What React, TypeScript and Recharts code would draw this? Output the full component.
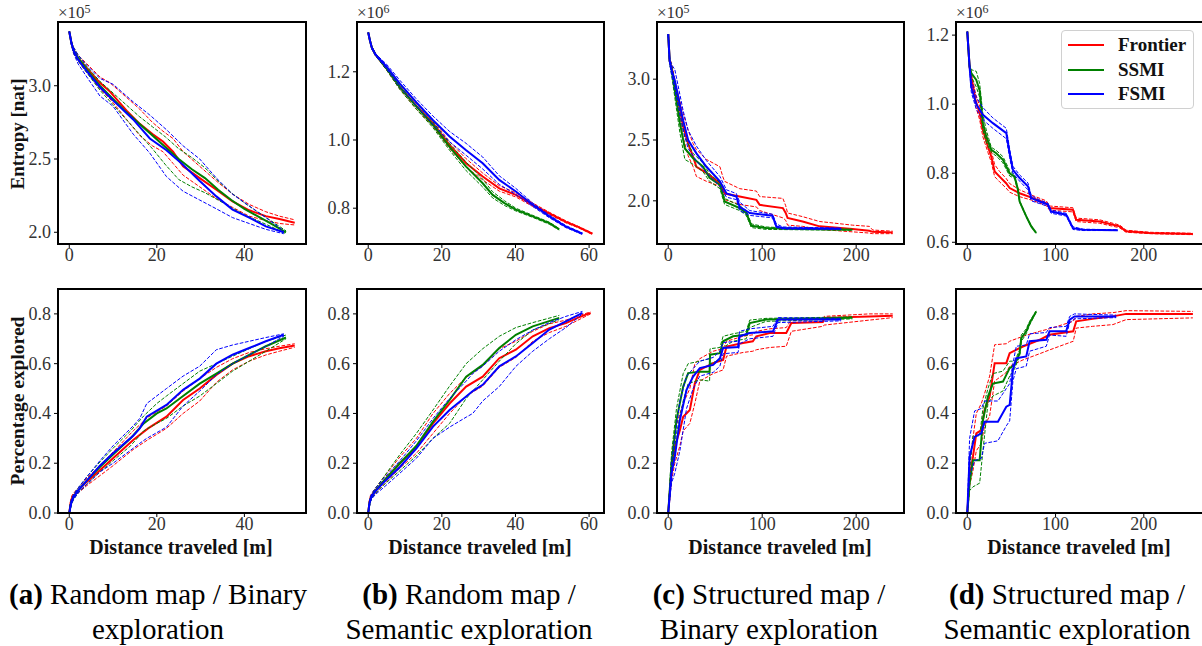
import React from 'react';
import { LineChart, Line, XAxis, YAxis } from 'recharts';

// ---------- tick labels / axis settings ----------
const xTicksA = [0, 20, 40];
const xTicksB = [0, 20, 40, 60];
const xTicksC = [0, 100, 200];
const xTicksD = [0, 100, 200];
const yTicksA1 = [2.0, 2.5, 3.0];
const yTicksB1 = [0.8, 1.0, 1.2];
const yTicksC1 = [2.0, 2.5, 3.0];
const yTicksD1 = [0.6, 0.8, 1.0, 1.2];
const yTicksBottom = [0.0, 0.2, 0.4, 0.6, 0.8];
const seriesNames = ['Frontier', 'SSMI', 'FSMI'];
const seriesColors = ['#ff0000', '#008000', '#0000ff'];
const captionsLine1 = [['(a)', ' Random map / Binary'], ['(b)', ' Random map /'], ['(c)', ' Structured map /'], ['(d)', ' Structured map /']];
const captionsLine2 = ['exploration', 'Semantic exploration', 'Binary exploration', 'Semantic exploration'];

// ---------- (a) top: entropy x1e5 ----------
const a1FrX = [0, 0.5, 1, 2, 4, 7, 9.3, 13.1, 16.1, 19, 21.4, 23.7, 26, 29.8, 33.6, 37.3, 41.1, 44.9, 48, 51.5];
const a1FrM = [3.37, 3.29, 3.24, 3.19, 3.12, 3.02, 2.96, 2.83, 2.74, 2.67, 2.62, 2.55, 2.45, 2.37, 2.29, 2.21, 2.15, 2.11, 2.09, 2.065];
const a1FrHi = [3.37, 3.3, 3.26, 3.21, 3.15, 3.06, 3.02, 2.92, 2.84, 2.75, 2.69, 2.64, 2.55, 2.45, 2.35, 2.26, 2.19, 2.14, 2.11, 2.085];
const a1FrLo = [3.37, 3.28, 3.22, 3.17, 3.09, 2.98, 2.91, 2.77, 2.66, 2.59, 2.55, 2.47, 2.39, 2.31, 2.23, 2.17, 2.11, 2.08, 2.06, 2.05];
const a1SsX = [0, 0.5, 1, 2, 4, 7, 10, 13, 16, 19, 22, 25, 28, 31, 34, 37, 40, 43, 46, 49.5];
const a1SsM = [3.37, 3.29, 3.24, 3.19, 3.11, 3.0, 2.91, 2.82, 2.74, 2.66, 2.58, 2.5, 2.43, 2.37, 2.29, 2.22, 2.16, 2.11, 2.06, 2.0];
const a1SsHi = [3.37, 3.3, 3.26, 3.21, 3.13, 3.03, 2.95, 2.87, 2.79, 2.72, 2.65, 2.57, 2.51, 2.44, 2.35, 2.27, 2.2, 2.14, 2.08, 2.01];
const a1SsLo = [3.37, 3.28, 3.22, 3.17, 3.09, 2.97, 2.87, 2.77, 2.67, 2.57, 2.46, 2.36, 2.31, 2.27, 2.22, 2.17, 2.12, 2.08, 2.04, 1.99];
const a1FsX = [0, 0.5, 1, 2, 4, 7, 10, 14.6, 18.4, 22.2, 26, 29.8, 33.6, 37.3, 41.1, 44.9, 49];
const a1FsM = [3.37, 3.29, 3.24, 3.18, 3.1, 2.99, 2.9, 2.77, 2.64, 2.56, 2.46, 2.35, 2.245, 2.155, 2.1, 2.04, 2.0];
const a1FsHi = [3.37, 3.3, 3.26, 3.21, 3.14, 3.05, 3.01, 2.89, 2.8, 2.7, 2.59, 2.5, 2.37, 2.26, 2.18, 2.1, 2.01];
const a1FsLo = [3.37, 3.28, 3.22, 3.15, 3.06, 2.93, 2.86, 2.67, 2.54, 2.38, 2.28, 2.22, 2.16, 2.1, 2.06, 2.02, 1.99];

// ---------- (a) bottom: percentage explored ----------
const a2FrX = [0, 0.3, 0.6, 1, 2, 4, 7, 10, 14.6, 18, 22.2, 26, 29.8, 33.6, 37.3, 41.1, 44.9, 48, 51.5];
const a2FrM = [0, 0.04, 0.06, 0.07, 0.09, 0.125, 0.172, 0.22, 0.293, 0.34, 0.387, 0.454, 0.5, 0.555, 0.6, 0.63, 0.65, 0.662, 0.673];
const a2FrHi = [0, 0.05, 0.07, 0.08, 0.1, 0.14, 0.19, 0.245, 0.33, 0.385, 0.43, 0.49, 0.54, 0.585, 0.62, 0.645, 0.66, 0.67, 0.68];
const a2FrLo = [0, 0.03, 0.05, 0.06, 0.08, 0.11, 0.15, 0.19, 0.255, 0.295, 0.34, 0.4, 0.45, 0.525, 0.575, 0.61, 0.635, 0.65, 0.666];
const a2SsX = [0, 0.3, 0.6, 1, 2, 4, 7, 10, 14, 17, 20, 22.2, 26, 29.8, 33.6, 37.3, 41.1, 44.9, 49.5];
const a2SsM = [0, 0.03, 0.05, 0.065, 0.09, 0.13, 0.185, 0.235, 0.3, 0.36, 0.4, 0.42, 0.47, 0.52, 0.56, 0.6, 0.635, 0.67, 0.705];
const a2SsHi = [0, 0.04, 0.06, 0.075, 0.1, 0.145, 0.205, 0.26, 0.33, 0.39, 0.44, 0.47, 0.52, 0.57, 0.6, 0.63, 0.66, 0.69, 0.715];
const a2SsLo = [0, 0.02, 0.04, 0.055, 0.08, 0.115, 0.165, 0.21, 0.27, 0.33, 0.36, 0.38, 0.43, 0.47, 0.52, 0.57, 0.61, 0.65, 0.7];
const a2FsX = [0, 0.3, 0.6, 1, 2, 4, 7, 10, 14.6, 16.1, 17.7, 22.2, 26, 29.8, 33.6, 37.3, 41.1, 44.9, 49];
const a2FsM = [0, 0.03, 0.05, 0.065, 0.09, 0.13, 0.19, 0.24, 0.31, 0.34, 0.387, 0.434, 0.495, 0.54, 0.6, 0.636, 0.663, 0.69, 0.716];
const a2FsHi = [0, 0.04, 0.06, 0.075, 0.1, 0.145, 0.21, 0.27, 0.35, 0.38, 0.44, 0.5, 0.55, 0.59, 0.656, 0.675, 0.69, 0.705, 0.72];
const a2FsLo = [0, 0.02, 0.04, 0.055, 0.08, 0.115, 0.165, 0.2, 0.26, 0.28, 0.3, 0.345, 0.43, 0.49, 0.555, 0.6, 0.635, 0.67, 0.71];

// ---------- (b) top: entropy x1e6 ----------
const b1FrX = [0, 0.5, 1, 2, 3.2, 5, 8.6, 13.1, 17.6, 22.1, 26.6, 31.1, 35.6, 40.1, 44.7, 49.2, 53.7, 57, 60.9];
const b1FrM = [1.315, 1.29, 1.27, 1.25, 1.234, 1.21, 1.156, 1.1, 1.049, 0.985, 0.932, 0.893, 0.858, 0.839, 0.81, 0.785, 0.76, 0.745, 0.725];
const b1FrHi = [1.315, 1.292, 1.273, 1.253, 1.238, 1.215, 1.163, 1.11, 1.058, 0.995, 0.945, 0.903, 0.866, 0.845, 0.815, 0.788, 0.763, 0.747, 0.727];
const b1FrLo = [1.315, 1.288, 1.267, 1.247, 1.23, 1.205, 1.149, 1.09, 1.04, 0.975, 0.92, 0.883, 0.85, 0.833, 0.805, 0.782, 0.757, 0.743, 0.723];
const b1SsX = [0, 0.5, 1, 2, 3.2, 5, 8.6, 13.1, 17.6, 22.1, 26.6, 31.1, 33.8, 37, 40.1, 44.7, 49.2, 51.9];
const b1SsM = [1.315, 1.29, 1.27, 1.25, 1.234, 1.21, 1.155, 1.098, 1.044, 0.98, 0.922, 0.873, 0.839, 0.815, 0.796, 0.776, 0.756, 0.738];
const b1SsHi = [1.315, 1.292, 1.273, 1.253, 1.238, 1.215, 1.162, 1.107, 1.053, 0.99, 0.935, 0.885, 0.848, 0.822, 0.8, 0.779, 0.759, 0.74];
const b1SsLo = [1.315, 1.288, 1.267, 1.247, 1.23, 1.205, 1.148, 1.09, 1.036, 0.97, 0.91, 0.862, 0.83, 0.808, 0.792, 0.773, 0.753, 0.736];
const b1FsX = [0, 0.5, 1, 2, 3.2, 5, 8.6, 13.1, 17.6, 22.1, 26.6, 31.1, 35.6, 40.1, 44.7, 49.2, 53.7, 58.2];
const b1FsM = [1.315, 1.29, 1.27, 1.25, 1.236, 1.215, 1.165, 1.11, 1.058, 1.01, 0.97, 0.932, 0.883, 0.849, 0.81, 0.776, 0.746, 0.725];
const b1FsHi = [1.315, 1.292, 1.273, 1.253, 1.24, 1.222, 1.175, 1.12, 1.07, 1.025, 0.99, 0.95, 0.895, 0.858, 0.815, 0.78, 0.749, 0.727];
const b1FsLo = [1.315, 1.288, 1.267, 1.247, 1.232, 1.208, 1.155, 1.1, 1.046, 0.995, 0.955, 0.915, 0.87, 0.84, 0.805, 0.772, 0.743, 0.723];

// ---------- (b) bottom ----------
const b2FrX = [0, 0.3, 0.6, 1, 2, 4, 8.6, 13.1, 17.6, 22.1, 26.6, 31.1, 35.6, 40.1, 44.7, 49.2, 53.7, 57, 60.4];
const b2FrM = [0, 0.04, 0.06, 0.07, 0.09, 0.125, 0.2, 0.266, 0.36, 0.44, 0.508, 0.548, 0.622, 0.656, 0.71, 0.743, 0.763, 0.785, 0.804];
const b2FrHi = [0, 0.05, 0.07, 0.08, 0.1, 0.14, 0.225, 0.3, 0.4, 0.48, 0.545, 0.59, 0.66, 0.69, 0.73, 0.76, 0.775, 0.792, 0.808];
const b2FrLo = [0, 0.03, 0.05, 0.06, 0.08, 0.11, 0.18, 0.24, 0.32, 0.4, 0.47, 0.51, 0.585, 0.625, 0.69, 0.725, 0.75, 0.775, 0.8];
const b2SsX = [0, 0.3, 0.6, 1, 2, 4, 8.6, 13.1, 17.6, 22.1, 26.6, 31.1, 35.6, 40.1, 44.7, 51.9];
const b2SsM = [0, 0.035, 0.055, 0.068, 0.09, 0.125, 0.2, 0.27, 0.367, 0.454, 0.548, 0.595, 0.663, 0.716, 0.75, 0.784];
const b2SsHi = [0, 0.045, 0.065, 0.078, 0.1, 0.14, 0.235, 0.32, 0.414, 0.51, 0.6, 0.66, 0.71, 0.745, 0.765, 0.794];
const b2SsLo = [0, 0.025, 0.045, 0.058, 0.08, 0.11, 0.17, 0.23, 0.3, 0.36, 0.46, 0.535, 0.61, 0.68, 0.735, 0.777];
const b2FsX = [0, 0.3, 0.6, 1, 2, 4, 8.6, 13.1, 17.6, 22.1, 26.6, 28.4, 31.1, 35.6, 40.1, 44.7, 49.2, 53.7, 58.2];
const b2FsM = [0, 0.035, 0.055, 0.068, 0.088, 0.12, 0.185, 0.26, 0.347, 0.414, 0.468, 0.49, 0.515, 0.589, 0.629, 0.683, 0.737, 0.77, 0.804];
const b2FsHi = [0, 0.045, 0.065, 0.078, 0.1, 0.135, 0.21, 0.29, 0.38, 0.46, 0.53, 0.56, 0.59, 0.65, 0.696, 0.735, 0.765, 0.79, 0.81];
const b2FsLo = [0, 0.025, 0.045, 0.058, 0.075, 0.1, 0.16, 0.22, 0.3, 0.345, 0.385, 0.4, 0.45, 0.508, 0.589, 0.65, 0.7, 0.745, 0.8];

// ---------- (c) top: entropy x1e5 ----------
const c1FrX = [0, 1.5, 3.5, 8.8, 12.4, 15.9, 21.2, 26.5, 30, 40.7, 55, 58, 60, 76, 93.8, 97.3, 122, 125, 127, 143, 161, 196, 214, 217.6, 238.9];
const c1FrM = [3.37, 3.15, 3.1, 2.88, 2.75, 2.61, 2.47, 2.36, 2.28, 2.23, 2.145, 2.1, 2.06, 2.035, 2.008, 1.967, 1.94, 1.9, 1.86, 1.83, 1.79, 1.768, 1.754, 1.745, 1.74];
const c1FrHi = [3.37, 3.17, 3.13, 2.93, 2.82, 2.72, 2.58, 2.47, 2.42, 2.34, 2.28, 2.2, 2.16, 2.1, 2.08, 2.035, 2.02, 1.96, 1.9, 1.87, 1.83, 1.8, 1.79, 1.76, 1.75];
const c1FrLo = [3.37, 3.13, 3.07, 2.83, 2.68, 2.52, 2.37, 2.28, 2.2, 2.16, 2.12, 2.05, 2.01, 1.97, 1.95, 1.92, 1.86, 1.84, 1.8, 1.79, 1.765, 1.745, 1.735, 1.73, 1.73];
const c1SsX = [0, 1.5, 3.5, 7, 12.4, 17.7, 26.5, 37, 44, 55, 58, 60, 76, 83, 88.5, 104, 140, 196];
const c1SsM = [3.37, 3.15, 3.08, 2.91, 2.64, 2.43, 2.35, 2.28, 2.19, 2.13, 2.05, 1.995, 1.94, 1.9, 1.795, 1.776, 1.768, 1.762];
const c1SsHi = [3.37, 3.17, 3.12, 2.97, 2.72, 2.52, 2.39, 2.31, 2.22, 2.15, 2.08, 2.02, 1.96, 1.92, 1.81, 1.785, 1.772, 1.765];
const c1SsLo = [3.37, 3.13, 3.04, 2.85, 2.56, 2.34, 2.3, 2.24, 2.16, 2.1, 2.02, 1.97, 1.92, 1.88, 1.78, 1.765, 1.762, 1.758];
const c1FsX = [0, 1.5, 3.5, 7, 15.9, 21.2, 30, 40.7, 55, 62, 72.5, 76, 86.7, 111, 115, 122, 184];
const c1FsM = [3.37, 3.15, 3.08, 2.99, 2.66, 2.5, 2.39, 2.28, 2.16, 2.06, 2.035, 1.95, 1.9, 1.877, 1.79, 1.776, 1.77];
const c1FsHi = [3.37, 3.17, 3.12, 3.08, 2.74, 2.58, 2.45, 2.33, 2.2, 2.09, 2.06, 1.99, 1.92, 1.89, 1.81, 1.785, 1.775];
const c1FsLo = [3.37, 3.13, 3.04, 2.92, 2.58, 2.43, 2.33, 2.23, 2.12, 2.03, 2.01, 1.92, 1.88, 1.86, 1.78, 1.768, 1.765];

// ---------- (c) bottom ----------
const c2FrX = [0, 3.5, 7, 12.4, 15.9, 23, 28.3, 33.6, 47.8, 58.4, 62, 79.6, 90, 93.8, 108, 125.6, 131, 164.5, 166, 214, 238.9];
const c2FrM = [0, 0.17, 0.266, 0.333, 0.387, 0.414, 0.52, 0.575, 0.602, 0.615, 0.669, 0.683, 0.69, 0.71, 0.723, 0.723, 0.763, 0.767, 0.784, 0.79, 0.793];
const c2FrHi = [0, 0.21, 0.33, 0.4, 0.44, 0.5, 0.6, 0.62, 0.65, 0.66, 0.69, 0.71, 0.716, 0.73, 0.74, 0.745, 0.777, 0.78, 0.79, 0.8, 0.8];
const c2FrLo = [0, 0.13, 0.2, 0.27, 0.33, 0.36, 0.44, 0.53, 0.56, 0.575, 0.63, 0.645, 0.65, 0.656, 0.665, 0.67, 0.73, 0.75, 0.755, 0.775, 0.785];
const c2SsX = [0, 3.5, 8.8, 15.9, 21.2, 33.6, 44, 44.5, 55, 58.4, 69, 83, 86.7, 104, 196];
const c2SsM = [0, 0.2, 0.374, 0.508, 0.562, 0.568, 0.568, 0.636, 0.642, 0.69, 0.71, 0.716, 0.763, 0.777, 0.784];
const c2SsHi = [0, 0.24, 0.42, 0.56, 0.6, 0.61, 0.62, 0.66, 0.665, 0.71, 0.72, 0.73, 0.775, 0.782, 0.788];
const c2SsLo = [0, 0.16, 0.32, 0.45, 0.52, 0.535, 0.53, 0.6, 0.615, 0.665, 0.69, 0.7, 0.745, 0.77, 0.78];
const c2FsX = [0, 3.5, 7, 12.4, 19.5, 26.5, 33.6, 47.8, 55, 58.4, 74.3, 76, 86.7, 111.5, 116.8, 184];
const c2FsM = [0, 0.159, 0.226, 0.374, 0.495, 0.548, 0.582, 0.595, 0.622, 0.663, 0.667, 0.71, 0.723, 0.73, 0.777, 0.777];
const c2FsHi = [0, 0.2, 0.3, 0.45, 0.55, 0.58, 0.61, 0.625, 0.65, 0.685, 0.69, 0.73, 0.74, 0.75, 0.785, 0.782];
const c2FsLo = [0, 0.12, 0.16, 0.25, 0.42, 0.5, 0.55, 0.565, 0.59, 0.64, 0.645, 0.68, 0.7, 0.71, 0.765, 0.772];

// ---------- (d) top: entropy x1e6 ----------
const d1FrX = [0, 2.6, 4.5, 9.4, 14, 17.7, 23.4, 27.2, 31, 36.6, 44, 48, 59.3, 74.4, 89.5, 93.2, 119.7, 123.4, 150, 172.5, 180, 206.5, 255.6];
const d1FrM = [1.21, 1.108, 1.08, 1.012, 0.974, 0.925, 0.877, 0.848, 0.805, 0.79, 0.771, 0.757, 0.742, 0.728, 0.713, 0.699, 0.694, 0.665, 0.66, 0.646, 0.632, 0.627, 0.624];
const d1FrHi = [1.21, 1.115, 1.09, 1.03, 0.995, 0.945, 0.895, 0.865, 0.825, 0.805, 0.785, 0.77, 0.752, 0.735, 0.72, 0.705, 0.7, 0.67, 0.665, 0.65, 0.635, 0.629, 0.626];
const d1FrLo = [1.21, 1.1, 1.07, 0.995, 0.955, 0.905, 0.86, 0.832, 0.79, 0.775, 0.757, 0.745, 0.732, 0.721, 0.706, 0.693, 0.688, 0.66, 0.655, 0.642, 0.629, 0.625, 0.622];
const d1SsX = [0, 2.6, 4.5, 10.2, 14, 17.7, 21.5, 27.2, 32.8, 40.4, 48, 53.6, 57.4, 59.3, 66.8, 72.5, 78];
const d1SsM = [1.21, 1.108, 1.09, 1.07, 1.04, 0.945, 0.906, 0.868, 0.858, 0.839, 0.8, 0.79, 0.752, 0.718, 0.675, 0.646, 0.627];
const d1SsHi = [1.21, 1.112, 1.1, 1.095, 1.06, 0.97, 0.925, 0.875, 0.866, 0.848, 0.808, 0.795, 0.755, 0.72, 0.677, 0.648, 0.628];
const d1SsLo = [1.21, 1.104, 1.08, 1.05, 1.02, 0.925, 0.89, 0.86, 0.85, 0.83, 0.792, 0.785, 0.749, 0.716, 0.673, 0.644, 0.626];
const d1FsX = [0, 2.6, 4.5, 10.2, 17.7, 29, 44.2, 48, 51.7, 59.3, 68.7, 72.5, 81.9, 91.4, 95, 112, 119.7, 131, 170.6];
const d1FsM = [1.21, 1.108, 1.05, 1.0, 0.969, 0.945, 0.916, 0.858, 0.81, 0.786, 0.762, 0.728, 0.718, 0.709, 0.689, 0.68, 0.641, 0.636, 0.635];
const d1FsHi = [1.21, 1.112, 1.07, 1.02, 0.99, 0.96, 0.93, 0.87, 0.82, 0.795, 0.772, 0.735, 0.723, 0.713, 0.693, 0.684, 0.645, 0.638, 0.636];
const d1FsLo = [1.21, 1.104, 1.035, 0.985, 0.955, 0.93, 0.9, 0.845, 0.8, 0.777, 0.752, 0.72, 0.712, 0.704, 0.684, 0.676, 0.637, 0.634, 0.634];

// ---------- (d) bottom ----------
const d2FrX = [0, 2.6, 6.4, 10.2, 15.9, 19.6, 25.3, 31, 44.2, 48, 63, 82, 93, 120, 123.4, 142, 165, 180, 255.6];
const d2FrM = [0, 0.145, 0.226, 0.32, 0.333, 0.414, 0.468, 0.602, 0.602, 0.642, 0.669, 0.696, 0.716, 0.73, 0.77, 0.78, 0.79, 0.8, 0.8];
const d2FrHi = [0, 0.19, 0.3, 0.4, 0.44, 0.48, 0.55, 0.676, 0.68, 0.69, 0.71, 0.73, 0.74, 0.77, 0.79, 0.8, 0.805, 0.813, 0.81];
const d2FrLo = [0, 0.11, 0.17, 0.25, 0.28, 0.35, 0.39, 0.53, 0.565, 0.59, 0.615, 0.64, 0.655, 0.69, 0.743, 0.75, 0.757, 0.777, 0.784];
const d2SsX = [0, 2.6, 6.4, 14, 17.7, 23.4, 29, 40.4, 48, 53.6, 59.3, 61.2, 66.8, 70.6, 78.1];
const d2SsM = [0, 0.118, 0.212, 0.212, 0.374, 0.468, 0.52, 0.528, 0.582, 0.595, 0.642, 0.703, 0.73, 0.763, 0.81];
const d2SsHi = [0, 0.17, 0.31, 0.31, 0.42, 0.5, 0.56, 0.57, 0.61, 0.61, 0.655, 0.715, 0.74, 0.77, 0.812];
const d2SsLo = [0, 0.09, 0.105, 0.12, 0.25, 0.44, 0.47, 0.49, 0.55, 0.58, 0.63, 0.69, 0.72, 0.755, 0.808];
const d2FsX = [0, 2.6, 8.3, 15.9, 19.6, 34.7, 44.2, 48, 51.7, 55.5, 66.8, 70.6, 89.5, 93.2, 112, 116, 121.5, 168.7];
const d2FsM = [0, 0.226, 0.306, 0.32, 0.367, 0.367, 0.427, 0.434, 0.575, 0.622, 0.629, 0.69, 0.696, 0.73, 0.73, 0.777, 0.79, 0.79];
const d2FsHi = [0, 0.3, 0.41, 0.42, 0.45, 0.45, 0.5, 0.52, 0.6, 0.67, 0.675, 0.72, 0.725, 0.745, 0.75, 0.79, 0.8, 0.795];
const d2FsLo = [0, 0.15, 0.21, 0.22, 0.28, 0.29, 0.35, 0.37, 0.53, 0.58, 0.59, 0.65, 0.67, 0.715, 0.71, 0.765, 0.78, 0.785];

// ---------- helpers ----------
type Row = { x: number; m: number; lo: number; hi: number };
const rows = (x: number[], m: number[], lo: number[], hi: number[]): Row[] =>
  x.map((v, i) => ({ x: v, m: m[i], lo: lo[i], hi: hi[i] }));

const FONT = '"Liberation Serif", "Times New Roman", serif';

const YW = 50;
const XH = 30;

function XTick(props: any) {
  const { x, y, payload } = props;
  return (
    <text x={x} y={y + 11} textAnchor="middle" fontFamily={FONT} fontSize={18} fill="#333">
      {String(payload.value)}
    </text>
  );
}
function YTick(props: any) {
  const { x, y, payload } = props;
  return (
    <text x={x} y={y + 6} textAnchor="end" fontFamily={FONT} fontSize={18} fill="#333">
      {Number(payload.value).toFixed(1)}
    </text>
  );
}

type PanelProps = {
  left: number; top: number; width: number; height: number;
  xDomain: [number, number]; xTicks: number[];
  yDomain: [number, number]; yTicks: number[];
  series: Row[][];
};

function Panel(p: PanelProps) {
  return (
    <div style={{ position: 'absolute', left: p.left - YW, top: p.top }}>
      <LineChart width={p.width + YW} height={p.height + XH} margin={{ top: 0, right: 0, bottom: 0, left: 0 }}>
        <XAxis type="number" dataKey="x" domain={p.xDomain} ticks={p.xTicks} allowDataOverflow
          height={XH} axisLine={false} tickSize={4} tickMargin={2}
          tickLine={{ stroke: '#000', strokeWidth: 1 }} tick={<XTick />} interval={0} />
        <YAxis type="number" domain={p.yDomain} ticks={p.yTicks} allowDataOverflow
          width={YW} axisLine={false} tickSize={4} tickMargin={3}
          tickLine={{ stroke: '#000', strokeWidth: 1 }} tick={<YTick />} interval={0} />
        {p.series.flatMap((d, i) => [
          <Line key={`m${i}`} data={d} dataKey="m" type="linear" stroke={seriesColors[i]} strokeWidth={2}
            dot={false} activeDot={false} isAnimationActive={false} />,
          <Line key={`h${i}`} data={d} dataKey="hi" type="linear" stroke={seriesColors[i]} strokeWidth={1}
            strokeDasharray="3.7 1.6" dot={false} activeDot={false} isAnimationActive={false} />,
          <Line key={`l${i}`} data={d} dataKey="lo" type="linear" stroke={seriesColors[i]} strokeWidth={1}
            strokeDasharray="3.7 1.6" dot={false} activeDot={false} isAnimationActive={false} />,
        ])}
      </LineChart>
      <div style={{ position: 'absolute', left: YW - 1, top: -1, width: p.width + 2, height: p.height + 2,
        border: '2px solid #000', boxSizing: 'border-box', pointerEvents: 'none' }} />
    </div>
  );
}

function Offset({ left, exp }: { left: number; exp: string }) {
  return (
    <div style={{ position: 'absolute', left, top: 4, fontFamily: FONT, fontSize: 17, color: '#333', whiteSpace: 'nowrap', lineHeight: '18px' }}>
      ×10<span style={{ fontSize: 12, position: 'relative', top: -5 }}>{exp}</span>
    </div>
  );
}

const cols = [
  { left: 58, width: 248, xDomain: [-2.575, 54.075] as [number, number], xTicks: xTicksA, cap: 158 },
  { left: 357, width: 247, xDomain: [-3.05, 64.05] as [number, number], xTicks: xTicksB, cap: 469 },
  { left: 657, width: 247, xDomain: [-11.95, 250.9] as [number, number], xTicks: xTicksC, cap: 769 },
  { left: 956, width: 248, xDomain: [-12.8, 268.2] as [number, number], xTicks: xTicksD, cap: 1067 },
];
const topY: { d: [number, number]; t: number[]; exp: string }[] = [
  { d: [1.92, 3.435], t: yTicksA1, exp: '5' },
  { d: [0.695, 1.346], t: yTicksB1, exp: '6' },
  { d: [1.645, 3.47], t: yTicksC1, exp: '5' },
  { d: [0.595, 1.238], t: yTicksD1, exp: '6' },
];
const topSeries = [
  [rows(a1FrX, a1FrM, a1FrLo, a1FrHi), rows(a1SsX, a1SsM, a1SsLo, a1SsHi), rows(a1FsX, a1FsM, a1FsLo, a1FsHi)],
  [rows(b1FrX, b1FrM, b1FrLo, b1FrHi), rows(b1SsX, b1SsM, b1SsLo, b1SsHi), rows(b1FsX, b1FsM, b1FsLo, b1FsHi)],
  [rows(c1FrX, c1FrM, c1FrLo, c1FrHi), rows(c1SsX, c1SsM, c1SsLo, c1SsHi), rows(c1FsX, c1FsM, c1FsLo, c1FsHi)],
  [rows(d1FrX, d1FrM, d1FrLo, d1FrHi), rows(d1SsX, d1SsM, d1SsLo, d1SsHi), rows(d1FsX, d1FsM, d1FsLo, d1FsHi)],
];
const bottomSeries = [
  [rows(a2FrX, a2FrM, a2FrLo, a2FrHi), rows(a2SsX, a2SsM, a2SsLo, a2SsHi), rows(a2FsX, a2FsM, a2FsLo, a2FsHi)],
  [rows(b2FrX, b2FrM, b2FrLo, b2FrHi), rows(b2SsX, b2SsM, b2SsLo, b2SsHi), rows(b2FsX, b2FsM, b2FsLo, b2FsHi)],
  [rows(c2FrX, c2FrM, c2FrLo, c2FrHi), rows(c2SsX, c2SsM, c2SsLo, c2SsHi), rows(c2FsX, c2FsM, c2FsLo, c2FsHi)],
  [rows(d2FrX, d2FrM, d2FrLo, d2FrHi), rows(d2SsX, d2SsM, d2SsLo, d2SsHi), rows(d2FsX, d2FsM, d2FsLo, d2FsHi)],
];

const TOP_T = 22, TOP_H = 222, BOT_T = 289, BOT_H = 224;
const LABEL_STYLE: React.CSSProperties = { fontFamily: FONT, fontWeight: 'bold', fontSize: 20, whiteSpace: 'nowrap', color: '#111' };

export default function App() {
  return (
    <div style={{ position: 'absolute', left: 0, top: 0, width: 1202, height: 646, overflow: 'hidden', background: '#fff' }}>
      {cols.map((c, i) => (
        <React.Fragment key={i}>
          <Panel left={c.left} top={TOP_T} width={c.width} height={TOP_H} xDomain={c.xDomain} xTicks={c.xTicks}
            yDomain={topY[i].d} yTicks={topY[i].t} series={topSeries[i]} />
          <Offset left={c.left} exp={topY[i].exp} />
          <Panel left={c.left} top={BOT_T} width={c.width} height={BOT_H} xDomain={c.xDomain} xTicks={c.xTicks}
            yDomain={[0, 0.9]} yTicks={yTicksBottom} series={bottomSeries[i]} />
          <div style={{ ...LABEL_STYLE, position: 'absolute', left: c.left + Math.min(c.width, 246) / 2 - 150, top: 535, width: 300,
            textAlign: 'center', lineHeight: '24px' }}>
            Distance traveled [m]
          </div>
          <div style={{ position: 'absolute', left: c.cap - 220, top: 577, width: 440, textAlign: 'center',
            fontFamily: FONT, fontSize: 29, color: '#000', lineHeight: '35px' }}>
            <span style={{ fontWeight: 'bold' }}>{captionsLine1[i][0]}</span>{captionsLine1[i][1]}<br />{captionsLine2[i]}
          </div>
        </React.Fragment>
      ))}
      <div style={{ ...LABEL_STYLE, fontSize: 19, position: 'absolute', left: 18, top: 134, transform: 'translate(-50%, -50%) rotate(-90deg)' }}>Entropy [nat]</div>
      <div style={{ ...LABEL_STYLE, fontSize: 19.5, position: 'absolute', left: 18, top: 401, transform: 'translate(-50%, -50%) rotate(-90deg)' }}>Percentage explored</div>
      <div style={{ position: 'absolute', left: 1061, top: 30, width: 133, height: 79, boxSizing: 'border-box',
        border: '1px solid #d0d0d0', borderRadius: 4, background: 'rgba(255,255,255,0.85)' }}>
        {seriesNames.map((n, i) => (
          <div key={n} style={{ position: 'absolute', left: 0, top: 2 + i * 24.5, height: 22, width: 131 }}>
            <div style={{ position: 'absolute', left: 6, top: 11, width: 36, height: 2, background: seriesColors[i] }} />
            <div style={{ position: 'absolute', left: 56, top: 0, fontFamily: FONT, fontWeight: 'bold', fontSize: 19,
              lineHeight: '24px', color: '#111', whiteSpace: 'nowrap' }}>{n}</div>
          </div>
        ))}
      </div>
    </div>
  );
}
